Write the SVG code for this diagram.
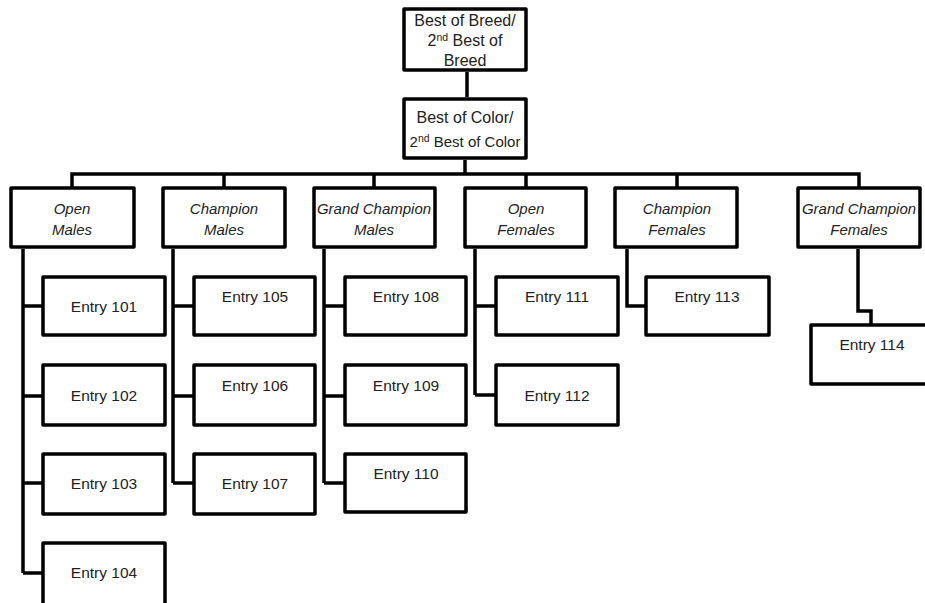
<svg xmlns="http://www.w3.org/2000/svg" width="925" height="603" viewBox="0 0 925 603">
<style>
.box{fill:#fff;stroke:#000;stroke-width:3.5;stroke-linejoin:round}
.ln{fill:none;stroke:#000;stroke-width:3.5;stroke-linejoin:miter}
.t{font-family:"Comic Sans MS","Liberation Sans",sans-serif;font-size:15.5px;fill:#222;text-anchor:middle}
.h{font-family:"Comic Sans MS","Liberation Sans",sans-serif;font-size:16px;fill:#222;text-anchor:middle}
.c{font-family:"Comic Sans MS","Liberation Sans",sans-serif;font-size:15px;fill:#222;text-anchor:middle;font-style:italic}
.sup{font-size:10.5px}
</style>
<rect width="925" height="603" fill="#fff"/>
<g id="connectors">
<path class="ln" d="M467,72V97"/>
<path class="ln" d="M465,160V174"/>
<path class="ln" d="M72,188V174H859V188"/>
<path class="ln" d="M224,174V188M374,174V188M526,174V188M677,174V188"/>
<path class="ln" d="M23,249V573M23,306H43M23,396H43M23,483H43M23,573H43"/>
<path class="ln" d="M173,249V483M173,306H194M173,396H194M173,483H194"/>
<path class="ln" d="M324,249V483M324,306H345M324,396H345M324,483H345"/>
<path class="ln" d="M475,249V395M475,306H496M475,395H496"/>
<path class="ln" d="M627,249V306H646"/>
<path class="ln" d="M858,249V311H871V325"/>
</g>
<g id="best-of-breed"><rect class="box" x="404" y="9" width="122" height="61"/>
<text class="h" x="465" y="26">Best of Breed/</text>
<text class="h" x="465" y="46">2<tspan class="sup" dy="-5">nd</tspan><tspan dy="5"> Best of</tspan></text>
<text class="h" x="465" y="66">Breed</text></g>
<g id="best-of-color"><rect class="box" x="404" y="99" width="122" height="59"/>
<text class="h" x="465" y="123">Best of Color/</text>
<text class="h" x="465" y="147" style="font-size:15px">2<tspan class="sup" dy="-5">nd</tspan><tspan dy="5"> Best of Color</tspan></text></g>
<g id="open-males"><rect class="box" x="11" y="188" width="123" height="59"/>
<text class="c" x="72" y="214">Open</text><text class="c" x="72" y="235">Males</text></g>
<g id="champion-males"><rect class="box" x="163" y="188" width="122" height="59"/>
<text class="c" x="224" y="214">Champion</text><text class="c" x="224" y="235">Males</text></g>
<g id="grand-champion-males"><rect class="box" x="314" y="188" width="121" height="59"/>
<text class="c" x="374" y="214">Grand Champion</text><text class="c" x="374" y="235">Males</text></g>
<g id="open-females"><rect class="box" x="465" y="188" width="121" height="59"/>
<text class="c" x="526" y="214">Open</text><text class="c" x="526" y="235">Females</text></g>
<g id="champion-females"><rect class="box" x="615" y="188" width="122" height="59"/>
<text class="c" x="677" y="214">Champion</text><text class="c" x="677" y="235">Females</text></g>
<g id="grand-champion-females"><rect class="box" x="798" y="188" width="122" height="59"/>
<text class="c" x="859" y="214">Grand Champion</text><text class="c" x="859" y="235">Females</text></g>
<g id="entry-101"><rect class="box" x="43" y="277" width="122" height="58"/><text class="t" x="104" y="312">Entry 101</text></g>
<g id="entry-102"><rect class="box" x="43" y="365" width="122" height="60"/><text class="t" x="104" y="401">Entry 102</text></g>
<g id="entry-103"><rect class="box" x="43" y="454" width="122" height="60"/><text class="t" x="104" y="489">Entry 103</text></g>
<g id="entry-104"><rect class="box" x="43" y="543" width="122" height="80"/><text class="t" x="104" y="578">Entry 104</text></g>
<g id="entry-105"><rect class="box" x="194" y="277" width="121" height="58"/><text class="t" x="255" y="302">Entry 105</text></g>
<g id="entry-106"><rect class="box" x="194" y="365" width="121" height="60"/><text class="t" x="255" y="391">Entry 106</text></g>
<g id="entry-107"><rect class="box" x="194" y="454" width="121" height="60"/><text class="t" x="255" y="489">Entry 107</text></g>
<g id="entry-108"><rect class="box" x="345" y="277" width="121" height="58"/><text class="t" x="406" y="302">Entry 108</text></g>
<g id="entry-109"><rect class="box" x="345" y="365" width="121" height="60"/><text class="t" x="406" y="391">Entry 109</text></g>
<g id="entry-110"><rect class="box" x="345" y="454" width="121" height="58"/><text class="t" x="406" y="479">Entry 110</text></g>
<g id="entry-111"><rect class="box" x="496" y="277" width="122" height="58"/><text class="t" x="557" y="302">Entry 111</text></g>
<g id="entry-112"><rect class="box" x="496" y="365" width="122" height="60"/><text class="t" x="557" y="401">Entry 112</text></g>
<g id="entry-113"><rect class="box" x="646" y="277" width="123" height="58"/><text class="t" x="707" y="302">Entry 113</text></g>
<g id="entry-114"><rect class="box" x="811" y="325" width="130" height="59"/><text class="t" x="872" y="350">Entry 114</text></g>
</svg>
